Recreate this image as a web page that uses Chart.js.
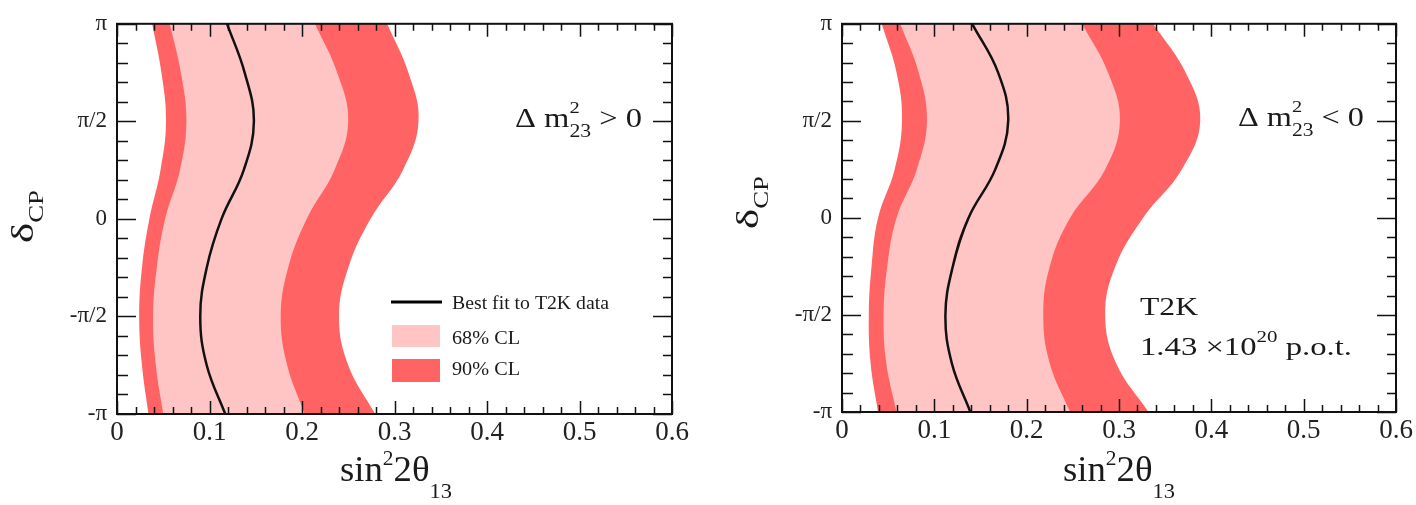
<!DOCTYPE html>
<html>
<head>
<meta charset="utf-8">
<script src="https://cdn.jsdelivr.net/npm/chart.js@4.4.1/dist/chart.umd.min.js"></script>
<style>
  body { margin: 0; background: #fff; width: 1416px; height: 505px; overflow: hidden; position: relative; }
  canvas { position: absolute; top: 0; }
  #left-chart { left: 0; }
  #right-chart { left: 725px; }
</style>
</head>
<body>
<canvas id="left-chart" width="700" height="505"></canvas>
<canvas id="right-chart" width="691" height="505"></canvas>
<script>
const PI = Math.PI;
const SERIF = "'Liberation Serif', 'Times New Roman', serif";
const LIGHT = '#ffc4c4';
const DARK = '#ff6363';

// delta_CP sample points (in units of pi), bottom to top
const deltaSteps = [-1, -0.75, -0.5, -0.25, 0, 0.25, 0.5, 0.75, 1];
const yTickValues = [-PI, -PI / 2, 0, PI / 2, PI];
const yTickLabels = ['-π', '-π/2', '0', 'π/2', 'π'];
const xTickValues = [0, 0.1, 0.2, 0.3, 0.4, 0.5, 0.6];
const xTickLabels = ['0', '0.1', '0.2', '0.3', '0.4', '0.5', '0.6'];

// Δm²23 > 0
const posBest = [0.117, 0.097, 0.090, 0.097, 0.113, 0.137, 0.148, 0.138, 0.119];
const pos68Lo = [0.050, 0.042, 0.039, 0.043, 0.052, 0.068, 0.075, 0.069, 0.057];
const pos68Hi = [0.203, 0.184, 0.177, 0.185, 0.205, 0.235, 0.250, 0.238, 0.214];
const pos90Lo = [0.034, 0.027, 0.024, 0.027, 0.035, 0.047, 0.053, 0.048, 0.038];
const pos90Hi = [0.279, 0.250, 0.240, 0.250, 0.274, 0.309, 0.326, 0.315, 0.292];

// Δm²23 < 0
const negBest = [0.139, 0.119, 0.112, 0.120, 0.137, 0.166, 0.180, 0.169, 0.141];
const neg68Lo = [0.059, 0.048, 0.045, 0.049, 0.059, 0.081, 0.092, 0.083, 0.063];
const neg68Hi = [0.247, 0.225, 0.218, 0.225, 0.247, 0.285, 0.301, 0.288, 0.260];
const neg90Lo = [0.039, 0.031, 0.029, 0.032, 0.039, 0.057, 0.065, 0.059, 0.043];
const neg90Hi = [0.332, 0.297, 0.285, 0.296, 0.326, 0.368, 0.388, 0.372, 0.337];

const toPoints = vals => vals.map((v, i) => ({ x: v, y: deltaSteps[i] * PI }));

const band = (label, vals, color, fill) => ({
  label,
  data: toPoints(vals),
  borderColor: 'rgba(0,0,0,0)',
  borderWidth: 0,
  backgroundColor: color,
  fill,
  pointRadius: 0,
  tension: 0.4
});

// text with super/subscripts; parts: [text, size, dy, stackOnPrevious]
function rich(ctx, x, y, parts, width) {
  const widths = parts.map(p => { ctx.font = p[1] + 'px ' + SERIF; return ctx.measureText(p[0]).width; });
  const xs = [];
  let cur = 0;
  parts.forEach((p, i) => {
    if (p[3]) { xs.push(xs[i - 1]); cur = Math.max(cur, xs[i - 1] + widths[i]); }
    else { xs.push(cur); cur += widths[i]; }
  });
  const sx = width ? width / cur : 1;
  ctx.save();
  ctx.translate(x, y);
  ctx.scale(sx, 1);
  ctx.fillStyle = '#1a1a1a';
  ctx.textAlign = 'left';
  ctx.textBaseline = 'alphabetic';
  parts.forEach((p, i) => {
    ctx.font = p[1] + 'px ' + SERIF;
    ctx.fillText(p[0], xs[i], p[2] || 0);
  });
  ctx.restore();
}

const framePlugin = {
  id: 'frame',
  afterDatasetsDraw(chart) {
    const { ctx, chartArea: a, scales: { x, y } } = chart;
    ctx.save();
    ctx.strokeStyle = '#111';
    ctx.lineWidth = 1.5;
    ctx.beginPath();
    for (let i = 0; i <= 30; i++) {
      const px = Math.round(x.getPixelForValue(i * 0.02)) + 0.5;
      const len = i % 5 ? 7 : 13;
      ctx.moveTo(px, a.bottom); ctx.lineTo(px, a.bottom - len);
      ctx.moveTo(px, a.top); ctx.lineTo(px, a.top + len);
    }
    for (let i = 0; i <= 20; i++) {
      const py = Math.round(y.getPixelForValue(-PI + i * PI / 10)) + 0.5;
      const major = i % 5 === 0;
      ctx.moveTo(a.left, py); ctx.lineTo(a.left + (major ? 19 : 11), py);
      ctx.moveTo(a.right, py); ctx.lineTo(a.right - (major ? 19 : 9), py);
    }
    ctx.stroke();
    ctx.lineWidth = 2;
    ctx.strokeRect(a.left, a.top, a.right - a.left, a.bottom - a.top);
    ctx.restore();
  }
};

function makeChart(id, p) {
  const textPlugin = {
    id: 'texts',
    afterDraw(chart) {
      const ctx = chart.ctx;
      // axis titles
      rich(ctx, p.xTitleX, 481, [['sin', 36], ['2', 21, -16], ['2θ', 36], ['13', 22, 17]], 112);
      ctx.save();
      ctx.translate(33, p.yTitleY);
      ctx.rotate(-PI / 2);
      rich(ctx, 0, 0, [['δ', 32], ['CP', 20, 10]], 53);
      ctx.restore();
      p.extra(ctx);
    }
  };

  return new Chart(document.getElementById(id), {
    type: 'line',
    data: {
      datasets: [
        { label: 'Best fit to T2K data', data: toPoints(p.best), borderColor: '#111', borderWidth: 2.5,
          pointRadius: 0, fill: false, tension: 0.4 },
        band('68% lo', p.lo68, LIGHT, false),
        band('68% CL', p.hi68, LIGHT, '-1'),
        band('90% lo', p.lo90, DARK, false),
        band('90% CL', p.hi90, DARK, '-1')
      ]
    },
    options: {
      indexAxis: 'y',
      responsive: false,
      animation: false,
      layout: { padding: { top: p.top, right: p.right, left: 0, bottom: 0 } },
      plugins: { legend: { display: false }, tooltip: { enabled: false } },
      scales: {
        x: {
          type: 'linear', min: 0, max: 0.6,
          afterBuildTicks: s => { s.ticks = xTickValues.map(v => ({ value: v })); },
          afterFit: s => { s.height = p.xHeight; },
          ticks: { callback: (v, i) => xTickLabels[i], font: { family: SERIF, size: 27 }, color: '#222',
                   padding: 3, maxRotation: 0, autoSkip: false },
          grid: { display: false, drawTicks: false },
          border: { display: false }
        },
        y: {
          type: 'linear', min: -PI, max: PI,
          afterBuildTicks: s => { s.ticks = yTickValues.map(v => ({ value: v })); },
          afterFit: s => { s.width = 117; },
          ticks: { callback: (v, i) => yTickLabels[i], font: { family: SERIF, size: 23 }, color: '#222',
                   padding: 10, autoSkip: false },
          grid: { display: false, drawTicks: false },
          border: { display: false }
        }
      }
    },
    plugins: [framePlugin, textPlugin]
  });
}

makeChart('left-chart', {
  best: posBest, lo68: pos68Lo, hi68: pos68Hi, lo90: pos90Lo, hi90: pos90Hi,
  top: 17, right: 28, xHeight: 91, xTitleX: 340, yTitleY: 243,
  extra: ctx => {
    rich(ctx, 515, 127, [['Δ m', 27], ['2', 17, -14], ['23', 18, 10, true], [' > 0', 27]], 127);
    // legend
    ctx.save();
    ctx.strokeStyle = '#000';
    ctx.lineWidth = 3;
    ctx.beginPath(); ctx.moveTo(391, 302); ctx.lineTo(442, 302); ctx.stroke();
    ctx.fillStyle = LIGHT; ctx.fillRect(392, 325, 48, 22);
    ctx.fillStyle = DARK; ctx.fillRect(392, 359, 48, 23);
    ctx.restore();
    rich(ctx, 452, 309, [['Best fit to T2K data', 19]], 157);
    rich(ctx, 452, 344, [['68% CL', 19]], 68);
    rich(ctx, 452, 375, [['90% CL', 19]], 68);
  }
});

makeChart('right-chart', {
  best: negBest, lo68: neg68Lo, hi68: neg68Hi, lo90: neg90Lo, hi90: neg90Hi,
  top: 15, right: 20, xHeight: 93, xTitleX: 338, yTitleY: 229,
  extra: ctx => {
    rich(ctx, 513, 126, [['Δ m', 27], ['2', 17, -14], ['23', 18, 10, true], [' < 0', 27]], 126);
    rich(ctx, 415, 315, [['T2K', 25]], 58);
    rich(ctx, 415, 355, [['1.43 ×10', 25], ['20', 16, -13], [' p.o.t.', 25]], 212);
  }
});
</script>
</body>
</html>
